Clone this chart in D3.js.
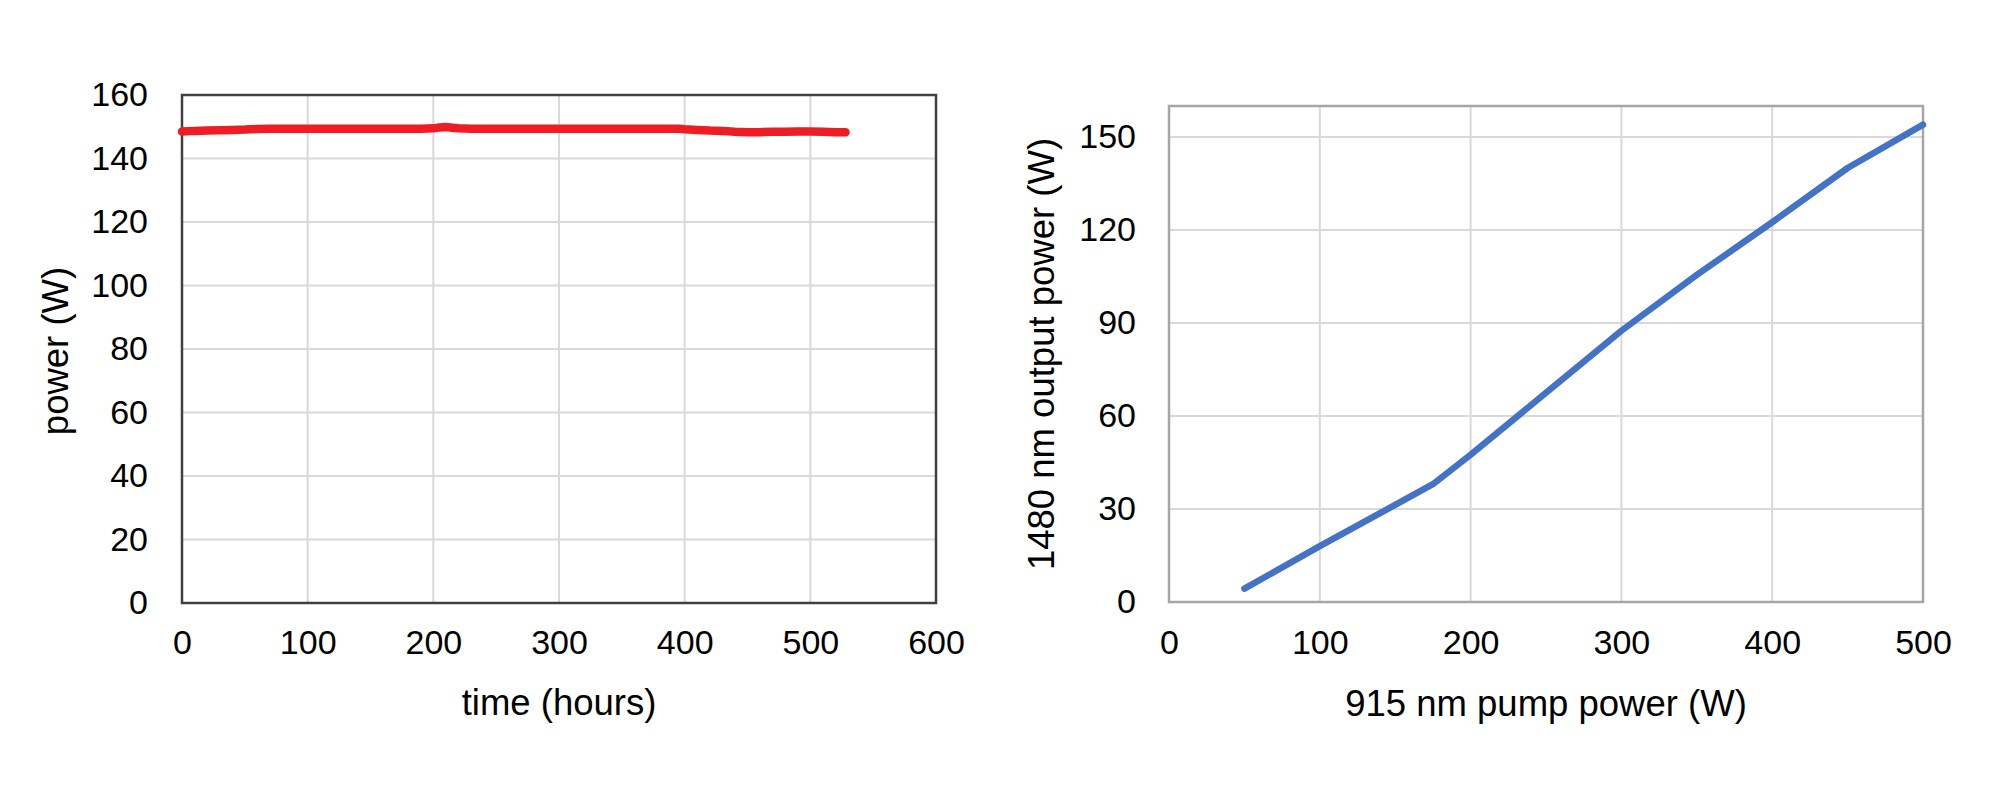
<!DOCTYPE html>
<html>
<head>
<meta charset="utf-8">
<script src="https://cdn.jsdelivr.net/npm/d3@7"></script>
<style>
  html, body { margin: 0; padding: 0; background: #fff; }
  svg { display: block; }
  text { font-family: "Liberation Sans", Arial, Helvetica, sans-serif; fill: #000; }
</style>
</head>
<body>
<svg id="chart" width="2000" height="800"></svg>
<script>
// ---- Left chart data: output power vs time ----
const timeHours = [0, 10, 20, 30, 40, 50, 60, 70, 100, 150, 190, 200, 205, 210, 215, 220, 230, 300, 350, 395, 400, 410, 420, 430, 440, 450, 460, 470, 480, 490, 500, 510, 520, 528];
const powerW    = [148.5, 148.7, 148.8, 148.9, 149.0, 149.1, 149.3, 149.4, 149.4, 149.4, 149.4, 149.5, 149.8, 149.9, 149.7, 149.5, 149.4, 149.4, 149.4, 149.4, 149.2, 149.0, 148.8, 148.7, 148.4, 148.3, 148.3, 148.4, 148.4, 148.5, 148.5, 148.4, 148.3, 148.3];
const leftXTicks = [0, 100, 200, 300, 400, 500, 600];
const leftYTicks = [0, 20, 40, 60, 80, 100, 120, 140, 160];

// ---- Right chart data: 1480 nm output vs 915 nm pump ----
const pumpW   = [50, 100, 175, 200, 250, 300, 350, 400, 450, 500];
const outputW = [4.3, 18, 38, 47.5, 67.5, 87.5, 105.5, 122.5, 140, 154];
const rightXTicks = [0, 100, 200, 300, 400, 500];
const rightYTicks = [0, 30, 60, 90, 120, 150];

const svg = d3.select("#chart");
const gridColor = "#d9d9d9";
const tickFont = 34;
const titleFont = 36.5;

// ================= LEFT CHART =================
(function () {
  const L = 182, R = 936, T = 95, B = 603;
  const x = d3.scaleLinear().domain([0, 600]).range([L, R]);
  const y = d3.scaleLinear().domain([0, 160]).range([B, T]);
  const g = svg.append("g");

  g.append("g").selectAll("line").data(leftXTicks.slice(1, -1)).join("line")
    .attr("x1", d => x(d)).attr("x2", d => x(d)).attr("y1", T).attr("y2", B)
    .attr("stroke", gridColor).attr("stroke-width", 2);
  g.append("g").selectAll("line").data(leftYTicks.slice(1, -1)).join("line")
    .attr("x1", L).attr("x2", R).attr("y1", d => y(d)).attr("y2", d => y(d))
    .attr("stroke", gridColor).attr("stroke-width", 2);

  const xAxis = g.append("g").attr("transform", `translate(0,${B})`)
    .call(d3.axisBottom(x).tickValues(leftXTicks).tickSize(0).tickPadding(27));
  const yAxis = g.append("g").attr("transform", `translate(${L},0)`)
    .call(d3.axisLeft(y).tickValues(leftYTicks).tickSize(0).tickPadding(34));
  [xAxis, yAxis].forEach(a => {
    a.select(".domain").remove();
    a.selectAll("text").attr("font-size", tickFont).attr("font-family", "Liberation Sans, Arial, sans-serif").attr("fill", "#000");
  });

  g.append("rect").attr("x", L).attr("y", T).attr("width", R - L).attr("height", B - T)
    .attr("fill", "none").attr("stroke", "#404040").attr("stroke-width", 2.5);

  const line = d3.line().x((d, i) => x(timeHours[i])).y(d => y(d));
  g.append("path").datum(powerW).attr("d", line)
    .attr("fill", "none").attr("stroke", "#ee1d23").attr("stroke-width", 8.5)
    .attr("stroke-linecap", "round").attr("stroke-linejoin", "round");

  g.append("text").attr("x", (L + R) / 2).attr("y", 715).attr("text-anchor", "middle")
    .attr("font-size", titleFont).text("time (hours)");
  g.append("text").attr("transform", `translate(68,351) rotate(-90)`).attr("text-anchor", "middle")
    .attr("font-size", titleFont).text("power (W)");
})();

// ================= RIGHT CHART =================
(function () {
  const L = 1169, R = 1923, T = 106, B = 602;
  const x = d3.scaleLinear().domain([0, 500]).range([L, R]);
  const y = d3.scaleLinear().domain([0, 160]).range([B, T]);
  const g = svg.append("g");

  g.append("g").selectAll("line").data(rightXTicks.slice(1, -1)).join("line")
    .attr("x1", d => x(d)).attr("x2", d => x(d)).attr("y1", T).attr("y2", B)
    .attr("stroke", gridColor).attr("stroke-width", 2);
  g.append("g").selectAll("line").data(rightYTicks.slice(1)).join("line")
    .attr("x1", L).attr("x2", R).attr("y1", d => y(d)).attr("y2", d => y(d))
    .attr("stroke", gridColor).attr("stroke-width", 2);

  const xAxis = g.append("g").attr("transform", `translate(0,${B})`)
    .call(d3.axisBottom(x).tickValues(rightXTicks).tickSize(0).tickPadding(28));
  const yAxis = g.append("g").attr("transform", `translate(${L},0)`)
    .call(d3.axisLeft(y).tickValues(rightYTicks).tickSize(0).tickPadding(33));
  [xAxis, yAxis].forEach(a => {
    a.select(".domain").remove();
    a.selectAll("text").attr("font-size", tickFont).attr("font-family", "Liberation Sans, Arial, sans-serif").attr("fill", "#000");
  });

  g.append("rect").attr("x", L).attr("y", T).attr("width", R - L).attr("height", B - T)
    .attr("fill", "none").attr("stroke", "#a6a6a6").attr("stroke-width", 2.5);

  const line = d3.line().x((d, i) => x(pumpW[i])).y(d => y(d));
  g.append("path").datum(outputW).attr("d", line)
    .attr("fill", "none").attr("stroke", "#4472c4").attr("stroke-width", 6.5)
    .attr("stroke-linecap", "round").attr("stroke-linejoin", "round");

  g.append("text").attr("x", (L + R) / 2).attr("y", 716).attr("text-anchor", "middle")
    .attr("font-size", titleFont).text("915 nm pump power (W)");
  g.append("text").attr("transform", `translate(1054,354) rotate(-90)`).attr("text-anchor", "middle")
    .attr("font-size", titleFont).text("1480 nm output power (W)");
})();
</script>
</body>
</html>
